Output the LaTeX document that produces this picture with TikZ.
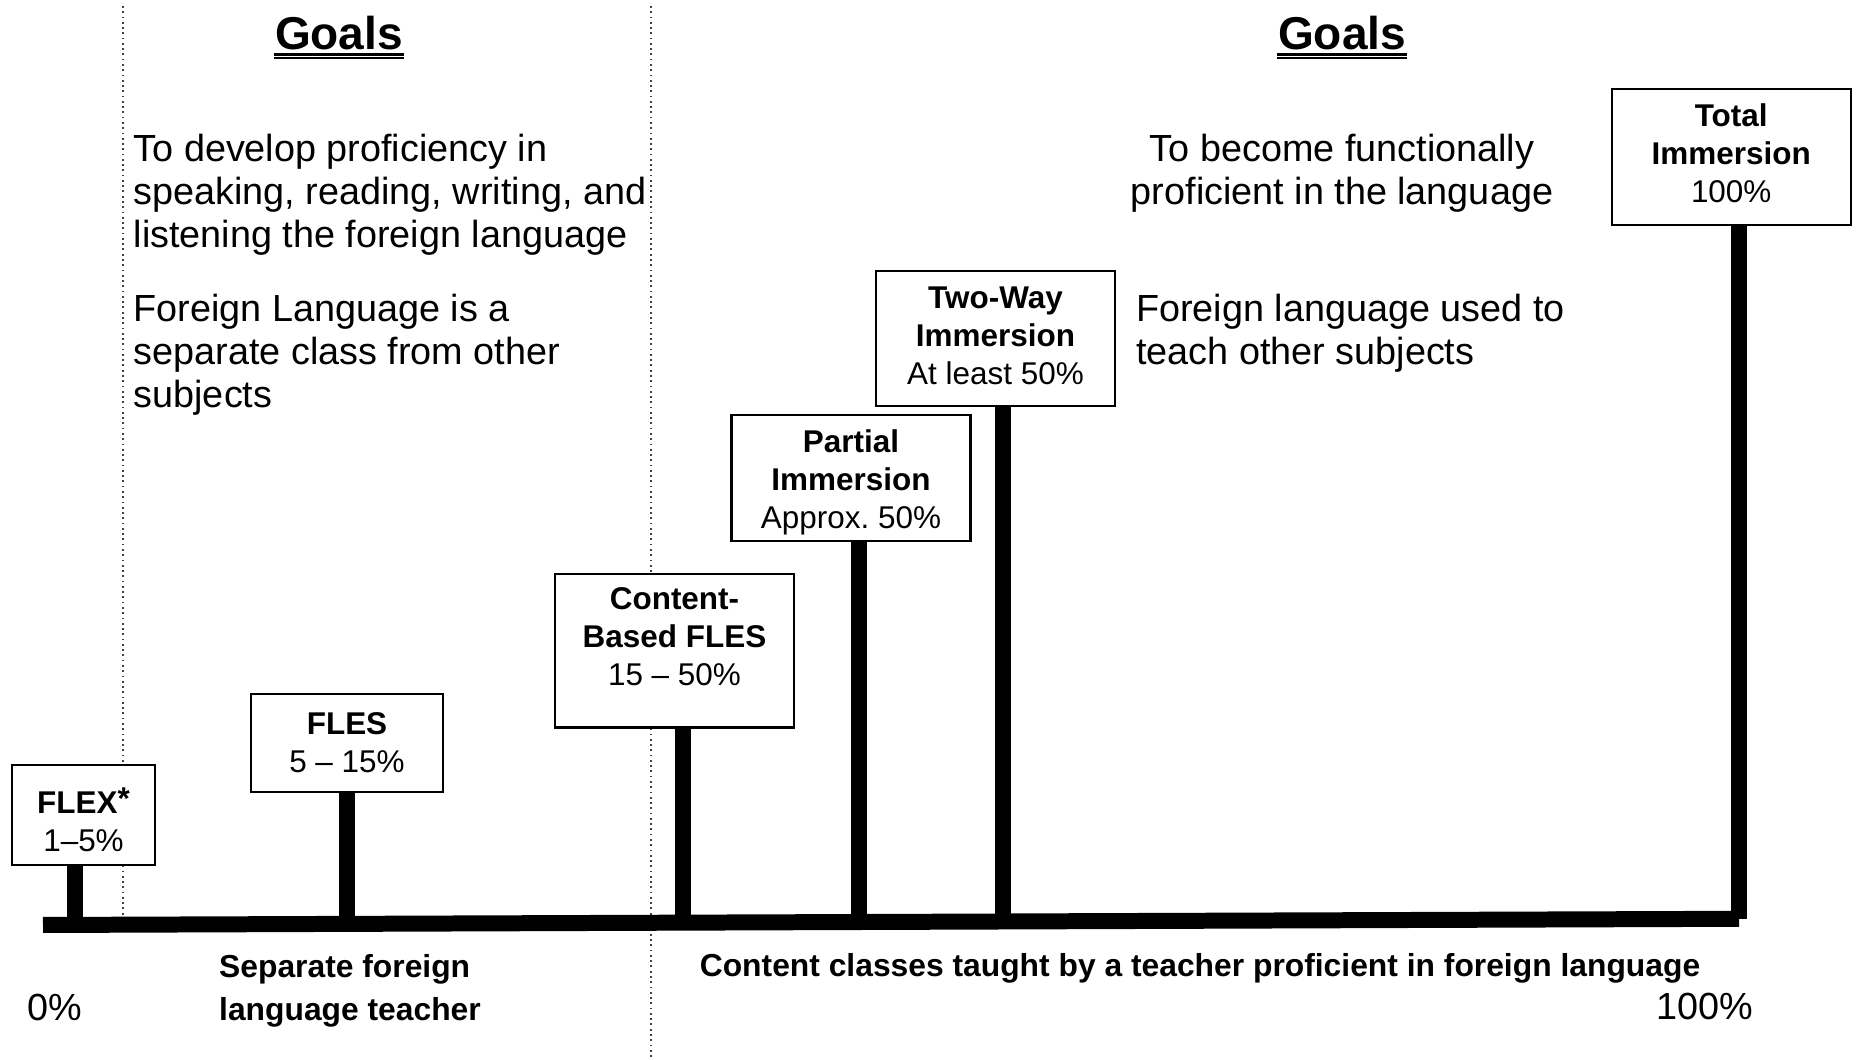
\documentclass[tikz,border=0pt]{standalone}
\usepackage{fontspec}
\setmainfont{Liberation Sans}
\usepackage{tikz}
\usetikzlibrary{calc}
\newcommand{\SignFont}{\fontsize{8.95pt}{10.8pt}\selectfont}
\newcommand{\BodyFont}{\fontsize{10.75pt}{12.2pt}\selectfont}
\newcommand{\NoteFont}{\fontsize{9.05pt}{12.35pt}\selectfont\bfseries}
\newcommand{\GoalFont}{\fontsize{13.1pt}{15pt}\selectfont\bfseries}

\begin{document}
\begin{tikzpicture}[
SignBoxes/.style={draw=black,line width=0.6pt,fill=white,align=center,inner sep=0pt,font=\SignFont},
Stems/.style={line width=4.4pt},
Track/.style={line width=4.55pt},
Dividers/.style={densely dotted,line width=0.5pt,black!75},
Texts/.style={inner sep=0pt,font=\BodyFont},
Notes/.style={inner sep=0pt,font=\NoteFont},
Underlines/.style={line width=0.68pt}
]
%\draw[gray!30,step=1] (0,0) grid (18.6,10.6);
\useasboundingbox (0,0) rectangle (18.6,10.6);

\coordinate (DLtop) at (1.23,10.54);
\coordinate (DLbot) at (1.23,1.35);
\coordinate (DMtop) at (6.51,10.54);
\coordinate (DMbot) at (6.51,0);

\coordinate (O) at (0.43,1.350);
\coordinate (Fa) at (0.75,1.351);
\coordinate (Fb) at (3.47,1.361);
\coordinate (Fc) at (6.83,1.373);
\coordinate (Fd) at (8.59,1.380);
\coordinate (Fe) at (10.03,1.385);
\coordinate (Ff) at (17.39,1.412);

\draw[Dividers] (DLtop)--(DLbot);
\draw[Dividers] (DMtop)--(DMbot);

\node[SignBoxes,minimum width=1.43cm,minimum height=1.00cm] (flex) at (0.835,2.45) {\rule{0pt}{0.35cm}\textbf{FLEX\raisebox{0.04cm}{*}}\\1--5\%};
\node[SignBoxes,minimum width=1.92cm,minimum height=0.98cm] (fles) at (3.47,3.17) {\textbf{FLES}\\5 -- 15\%};
\node[SignBoxes,minimum width=2.39cm,minimum height=1.535cm] (cbf) at (6.745,4.0925) {\textbf{Content-}\\\textbf{Based FLES}\\15 -- 50\%\rule[-0.28cm]{0pt}{0.28cm}};
\node[SignBoxes,minimum width=2.39cm,minimum height=1.26cm] (partial) at (8.51,5.82) {\rule{0pt}{0.32cm}\textbf{Partial}\\\textbf{Immersion}\\Approx.\ 50\%};
\node[SignBoxes,minimum width=2.39cm,minimum height=1.35cm] (twoway) at (9.955,7.217) {\textbf{Two-Way}\\\textbf{Immersion}\\At least 50\%\rule[-0.05cm]{0pt}{0.05cm}};
\node[SignBoxes,minimum width=2.39cm,minimum height=1.355cm] (total) at (17.312,9.03) {\textbf{Total}\\\textbf{Immersion}\\100\%\rule[-0.07cm]{0pt}{0.07cm}};

\draw[Stems] (flex.south -| Fa)--(Fa);
\draw[Stems] (fles.south -| Fb)--(Fb);
\draw[Stems] (cbf.south -| Fc)--(Fc);
\draw[Stems] (partial.south -| Fd)--(Fd);
\draw[Stems] (twoway.south -| Fe)--(Fe);
\draw[Stems] (total.south -| Ff)--(Ff);
\draw[Track] (O)--(Ff);

\node[inner sep=0pt,font=\GoalFont,anchor=base] (goalsL) at (3.39,10.10) {Goals};
\node[inner sep=0pt,font=\GoalFont,anchor=base] (goalsR) at (13.42,10.10) {Goals};
\foreach \g in {goalsL,goalsR}
  \foreach \d in {0.045,0.078}
    \draw[Underlines] ([yshift=-\d cm]\g.base west)--([yshift=-\d cm]\g.base east);

\node[Texts,align=left,anchor=north west] (aimL) at (1.33,9.267) {To develop proficiency in\\speaking, reading, writing, and\\listening the foreign language};
\node[Texts,align=left,anchor=north west] (kindL) at (1.33,7.662) {Foreign Language is a\\separate class from other\\subjects};
\node[Texts,align=center,anchor=north] (aimR) at (13.42,9.267) {To become functionally\\proficient in the language};
\node[Texts,align=left,anchor=north west] (kindR) at (11.355,7.667) {Foreign language used to\\teach other subjects};

\node[Notes,align=left,anchor=north west] (teacherL) at (2.185,1.065) {Separate foreign\\language teacher};
\node[Notes,anchor=base] (teacherR) at (12.0,0.835) {Content classes taught by a teacher proficient in foreign language};
\node[Texts,anchor=base west] (zero) at (0.265,0.39) {0\%};
\node[Texts,anchor=base east] (hundred) at (17.535,0.40) {100\%};

\end{tikzpicture}
\end{document}
